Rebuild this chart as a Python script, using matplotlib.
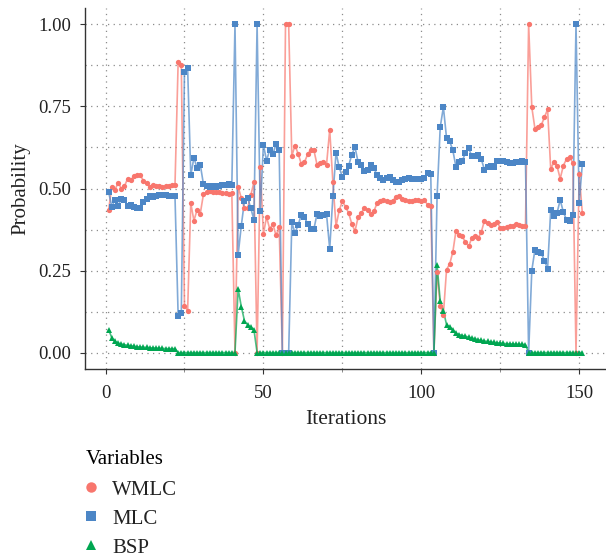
import matplotlib
matplotlib.use('Agg')
import matplotlib.pyplot as plt
from matplotlib.lines import Line2D
from matplotlib.ticker import MultipleLocator, FormatStrFormatter

OUTPUT_FILE = 'out.png'

SERIES = ['WMLC', 'MLC', 'BSP']
COLORS = ['#F8766D', '#4C86C6', '#00A651']
MARKERS = ['o', 's', '^']

ITERATIONS = list(range(1, 152))

WMLC = ([0.436, 0.506, 0.496, 0.518, 0.500, 0.507, 0.530, 0.526, 0.537, 0.541, 0.540,
         0.524, 0.516, 0.506, 0.511, 0.508, 0.507, 0.506, 0.507, 0.509, 0.511, 0.511]
        + [0.885, 0.877, 0.143, 0.128, 0.455, 0.402, 0.435, 0.423, 0.482, 0.489]
        + [0.491, 0.489, 0.490, 0.488, 0.486, 0.485, 0.484, 0.486]
        + [0.0]
        + [0.506, 0.470, 0.440, 0.440, 0.479, 0.519, 0.0]
        + [0.565, 0.362, 0.413, 0.377, 0.392, 0.357, 0.382]
        + [0.0, 1.0, 1.0]
        + [0.599, 0.631, 0.606, 0.575, 0.580, 0.604, 0.618, 0.616, 0.572, 0.577, 0.580,
           0.573, 0.679, 0.519, 0.385, 0.433, 0.461, 0.445, 0.425, 0.392, 0.370, 0.413,
           0.425, 0.441, 0.435, 0.421, 0.431, 0.455, 0.463, 0.465, 0.461, 0.458, 0.463,
           0.474, 0.476, 0.468, 0.465, 0.463, 0.463, 0.465, 0.465, 0.461]
        + [0.465, 0.450, 0.448]
        + [0.0]
        + [0.247, 0.143, 0.116, 0.253, 0.270, 0.307, 0.372, 0.357, 0.354, 0.336, 0.324,
           0.349, 0.354, 0.349, 0.367, 0.402, 0.394, 0.388, 0.392, 0.399, 0.380, 0.381,
           0.382, 0.385, 0.386, 0.392, 0.388, 0.385, 0.387]
        + [1.0]
        + [0.748, 0.682, 0.688, 0.693, 0.717, 0.741]
        + [0.558, 0.582, 0.568, 0.530, 0.570, 0.590, 0.595, 0.578]
        + [0.0]
        + [0.545, 0.425])

MLC = ([0.488, 0.445, 0.466, 0.448, 0.469, 0.465, 0.446, 0.451, 0.443, 0.441, 0.442,
        0.459, 0.468, 0.478, 0.474, 0.478, 0.480, 0.481, 0.481, 0.478, 0.476, 0.476]
       + [0.112, 0.120, 0.855, 0.868, 0.540, 0.594, 0.562, 0.573, 0.514, 0.507]
       + [0.505, 0.507, 0.506, 0.509, 0.511, 0.512, 0.513, 0.511]
       + [1.0]
       + [0.298, 0.387, 0.462, 0.472, 0.440, 0.405, 1.0]
       + [0.430, 0.633, 0.585, 0.618, 0.604, 0.636, 0.616]
       + [0.0, 0.0, 0.0]
       + [0.397, 0.364, 0.389, 0.420, 0.413, 0.392, 0.377, 0.377, 0.423, 0.416, 0.420,
          0.421, 0.316, 0.476, 0.609, 0.565, 0.535, 0.550, 0.570, 0.603, 0.626, 0.580,
          0.572, 0.552, 0.557, 0.573, 0.563, 0.540, 0.533, 0.527, 0.533, 0.535, 0.527,
          0.519, 0.519, 0.526, 0.530, 0.533, 0.530, 0.530, 0.530, 0.530]
       + [0.532, 0.548, 0.545]
       + [0.0]
       + [0.476, 0.687, 0.748, 0.654, 0.644, 0.616, 0.565, 0.580, 0.585, 0.609, 0.622,
          0.599, 0.599, 0.603, 0.590, 0.557, 0.565, 0.570, 0.565, 0.583, 0.583, 0.583,
          0.581, 0.578, 0.577, 0.580, 0.580, 0.583, 0.580]
       + [0.0]
       + [0.250, 0.314, 0.308, 0.303, 0.280, 0.256]
       + [0.435, 0.415, 0.426, 0.465, 0.428, 0.405, 0.400, 0.418]
       + [1.0]
       + [0.455, 0.575])

BSP = ([0.069, 0.045, 0.034, 0.029, 0.026, 0.024, 0.022, 0.021, 0.019, 0.018, 0.017,
        0.016, 0.016, 0.015, 0.014, 0.014, 0.013, 0.013, 0.012, 0.012, 0.012, 0.012]
       + [0.0] * 19
       + [0.194, 0.140, 0.097, 0.085, 0.077, 0.070]
       + [0.0] * 57
       + [0.268, 0.156, 0.128, 0.085, 0.079, 0.069, 0.059, 0.055, 0.052, 0.050, 0.047,
          0.044, 0.042, 0.039, 0.037, 0.035, 0.034, 0.032, 0.031, 0.030, 0.029, 0.028,
          0.027, 0.027, 0.026, 0.026, 0.025, 0.025, 0.024]
       + [0.0] * 18)


def main():
    plt.rcParams['font.family'] = ['Liberation Serif', 'DejaVu Serif']

    fig = plt.figure(figsize=(6.06, 5.57), dpi=100)
    ax = fig.add_axes([85 / 606, 1 - 369 / 557, 521 / 606, 361 / 557])

    data = [WMLC, MLC, BSP]
    sizes = [3.8, 4.0, 4.4]
    for vals, col, mk, ms in zip(data, COLORS, MARKERS, sizes):
        ax.plot(ITERATIONS, vals, color=col, lw=1.2, alpha=0.7, zorder=2)
        ax.plot(ITERATIONS, vals, ls='none', marker=mk, ms=ms, color=col,
                markeredgewidth=0, zorder=3)

    ax.set_xlim(-6.5, 158.5)
    ax.set_ylim(-0.05, 1.05)
    ax.xaxis.set_major_locator(MultipleLocator(50))
    ax.xaxis.set_minor_locator(MultipleLocator(25))
    ax.yaxis.set_major_locator(MultipleLocator(0.25))
    ax.yaxis.set_minor_locator(MultipleLocator(0.125))
    ax.yaxis.set_major_formatter(FormatStrFormatter('%.2f'))

    ax.grid(which='both', linestyle=(0, (1, 3.5)), color='#8c8c8c', linewidth=0.9)
    ax.set_axisbelow(True)

    for s in ['top', 'right']:
        ax.spines[s].set_visible(False)
    for s in ['left', 'bottom']:
        ax.spines[s].set_color('#333333')
        ax.spines[s].set_linewidth(1.0)

    ax.tick_params(which='major', direction='out', length=3.5, width=0.8,
                   colors='#333333', labelsize=13.5, labelcolor='#222222')
    ax.tick_params(axis='x', which='major', pad=8)
    ax.tick_params(axis='y', which='major', pad=6.5)
    ax.tick_params(axis='x', which='minor', direction='out', length=2, width=0.6,
                   colors='#777777')
    ax.tick_params(axis='y', which='minor', length=0)

    ax.set_xlabel('Iterations', fontsize=15.5, color='#222222', labelpad=6)
    ax.set_ylabel('Probability', fontsize=15, color='#222222', labelpad=6)

    handles = [Line2D([], [], ls='none', marker=mk, color=col, ms=7.5, markeredgewidth=0)
               for col, mk in zip(COLORS, MARKERS)]
    leg = fig.legend(handles, SERIES, loc='upper left',
                     bbox_to_anchor=(86 / 606, 1 - 450 / 557), frameon=False,
                     title='Variables', alignment='left', fontsize=15,
                     title_fontsize=15, labelspacing=0.45, handletextpad=0.75,
                     handlelength=0.5, borderpad=0, borderaxespad=0)
    leg._legend_box.sep = 8
    for t in leg.get_texts():
        t.set_color('#222222')

    fig.savefig(OUTPUT_FILE, dpi=100)


if __name__ == '__main__':
    main()
